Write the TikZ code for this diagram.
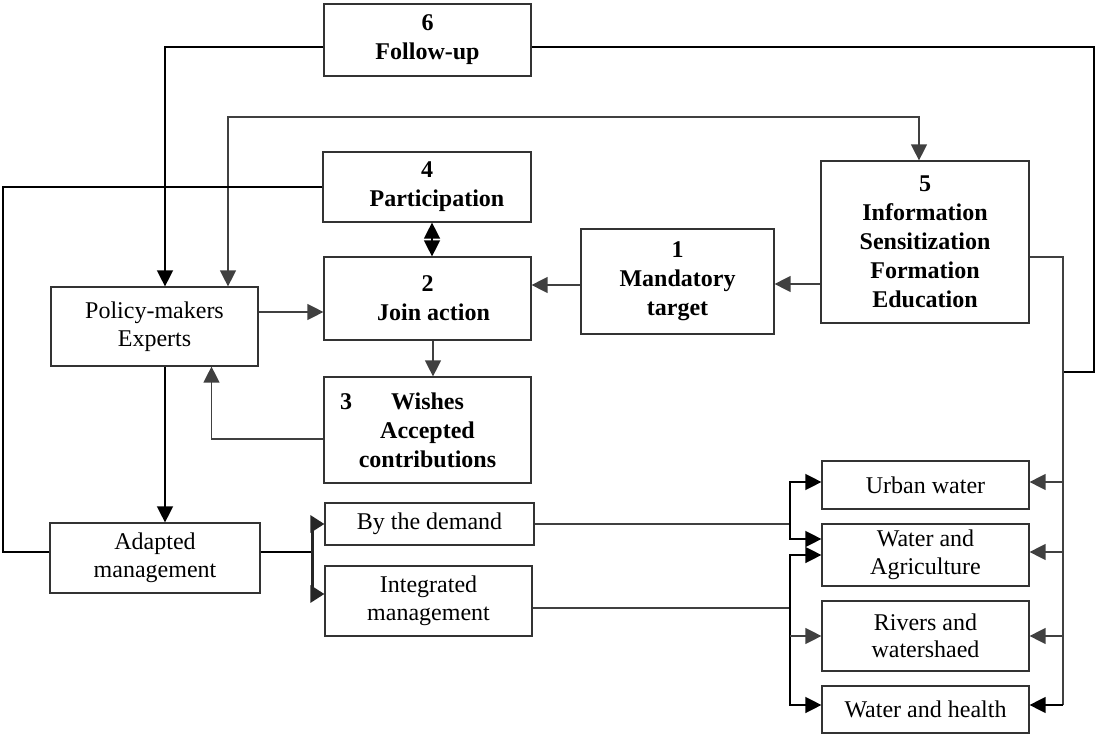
\documentclass[tikz,border=0pt]{standalone}
\usepackage{fontspec}
\setmainfont{Liberation Serif}
\usetikzlibrary{arrows.meta}
\definecolor{boxc}{HTML}{333333}
\definecolor{glc}{HTML}{404040}
\begin{document}
\begin{tikzpicture}[x=1pt,y=-1pt,
  tip/.style={-{Triangle[length=16pt,width=16pt]}},
  tip2/.style={{Triangle[length=16pt,width=16pt]}-{Triangle[length=16pt,width=16pt]}},
  box/.style={draw=boxc,line width=1.2pt,inner sep=0pt,align=center,
    font=\fontsize{24}{27.5}\selectfont},
  bbox/.style={box,font=\fontsize{24}{29}\selectfont\bfseries},
  bl/.style={line width=1.4pt,draw=black},
  gy/.style={line width=1.3pt,draw=glc},
  brk/.style={line width=3pt,draw=black!85,-{Triangle[length=14pt,width=17pt]}}]
\useasboundingbox (0,0) rectangle (1096,735);
% boxes
\node[bbox,minimum width=207pt,minimum height=72pt] (f6) at (427.5,40) {6\\Follow-up};
\node[bbox,minimum width=208pt,minimum height=70pt] (p4) at (427,187) {4\\\hspace*{20pt}Participation};
\node[bbox,minimum width=207pt,minimum height=83pt] (j2) at (427.5,298.5) {2\\\hspace*{12pt}Join action};
\node[bbox,minimum width=207pt,minimum height=106pt] (w3) at (427.5,430) {\llap{3\hspace{39pt}}Wishes\\Accepted\\contributions};
\node[box,minimum width=207pt,minimum height=79pt] (pm) at (154.5,326.5) {Policy-makers\\Experts};
\node[bbox,minimum width=193pt,minimum height=105pt] (m1) at (677.5,281.5) {1\\Mandatory\\target};
\node[bbox,minimum width=208pt,minimum height=162pt] (i5) at (925,242) {5\\Information\\Sensitization\\Formation\\Education};
\node[box,minimum width=207pt,minimum height=48pt] (uw) at (925.5,485) {Urban water};
\node[box,minimum width=207pt,minimum height=62pt] (wa) at (925.5,555) {Water and\\Agriculture};
\node[box,minimum width=207pt,minimum height=70pt] (rw) at (925.5,636) {Rivers and\\watershaed};
\node[box,minimum width=207pt,minimum height=47pt] (wh) at (925.5,709.5) {Water and health};
\node[box,minimum width=210pt,minimum height=70pt] (am) at (155,558) {Adapted\\management};
\node[box,minimum width=209pt,minimum height=42pt] (bd) at (429.5,524) {By the demand};
\node[box,minimum width=207pt,minimum height=70pt] (im) at (428.5,601) {Integrated\\management};
% junction coordinates
\coordinate (rt) at (1094,47);
\coordinate (rj) at (1063,372);
\coordinate (lv) at (790,524);
\coordinate (lw) at (790,608);
\coordinate (bx) at (312,552);
% follow-up connectors
\draw[bl,tip] (f6.west |- 0,47) -| (pm.north -| 165,0);
\draw[bl] (f6.east |- 0,47) -- (rt) |- (rj);
% loop between policy-makers and info box
\draw[gy,tip2] (pm.north -| 228,0) |- (919,117) -- (i5.north -| 919,0);
% participation to adapted management
\draw[bl] (p4.west) -| (3,552) -- (am.west |- 0,552);
\draw[bl,tip2] (p4.south -| 432,0) -- (j2.north -| 432,0);
% central flow
\draw[gy,tip] (pm.east |- 0,312) -- (j2.west |- 0,312);
\draw[gy,tip] (j2.south -| 433,0) -- (w3.north -| 433,0);
\draw[gy,tip] (w3.west |- 0,439) -| (pm.south -| 211.5,0);
\draw[gy,tip] (m1.west |- 0,285) -- (j2.east |- 0,285);
\draw[gy,tip] (i5.west |- 0,284) -- (m1.east |- 0,284);
\draw[bl,tip] (pm.south -| 165,0) -- (am.north -| 165,0);
% info box to water boxes
\draw[gy] (i5.east |- 0,257) -| (1063,705);
\draw[gy,tip] (1063,482) -- (uw.east |- 0,482);
\draw[gy,tip] (1063,552) -- (wa.east |- 0,552);
\draw[gy,tip] (1063,636) -- (rw.east |- 0,636);
\draw[bl,tip] (1063,705) -- (wh.east |- 0,705);
% adapted management bracket
\draw[bl] (am.east |- 0,552) -- (bx);
\draw[brk] (bx) |- (bd.west |- 0,524);
\draw[brk] (bx) |- (im.west |- 0,594);
% by the demand
\draw[gy] (bd.east |- 0,524) -- (lv);
\draw[bl,tip] (lv) |- (uw.west |- 0,482);
\draw[bl,tip] (lv) |- (wa.west |- 0,539);
% integrated management
\draw[gy] (im.east |- 0,608) -- (lw);
\draw[bl,tip] (790,608) |- (wa.west |- 0,555);
\draw[bl,tip] (790,608) |- (wh.west |- 0,705);
\draw[gy,tip] (790,636) -- (rw.west |- 0,636);
\end{tikzpicture}
\end{document}
